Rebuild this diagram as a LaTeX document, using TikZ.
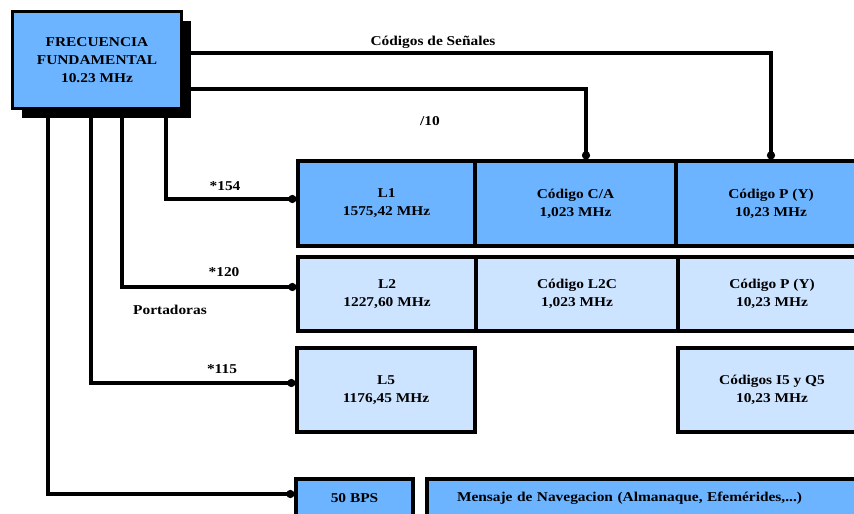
\documentclass[tikz,border=0pt]{standalone}
\usepackage{fontspec}
\setmainfont{Liberation Serif}[FakeStretch=1.14]
\usetikzlibrary{positioning,arrows.meta,calc,shadows}

\definecolor{bandblue}{RGB}{108,180,255}
\definecolor{paleblue}{RGB}{204,228,255}

\begin{document}
\begin{tikzpicture}[
    x=1pt, y=-1pt,
    font=\bfseries\fontsize{13.5}{18}\selectfont,
    link/.style={-{Circle[length=8pt]}, line width=3.3pt, draw=black},
    cell/.style={
        draw=black,
        line width=3.3pt,
        align=center,
        inner sep=0pt
    },
    darkcell/.style={cell, fill=bandblue},
    lightcell/.style={cell, fill=paleblue},
    tag/.style={inner sep=1pt}
]
\useasboundingbox (0,0) rectangle (854,514);

% oscilador
\node[darkcell, minimum width=169pt, minimum height=97pt,
      drop shadow={fill=black, opacity=1, shadow xshift=9pt, shadow yshift=-9pt}]
      (freq) at (97,60) {FRECUENCIA\\FUNDAMENTAL\\10.23 MHz};

% fila L1
\node[darkcell, minimum width=177pt, minimum height=85pt] (l1) at (386.5,203.5) {L1\\1575,42 MHz};
\node[darkcell, minimum width=201pt, minimum height=85pt] (ca) at (575.5,203.5) {Código C/A\\1,023 MHz};
\node[darkcell, minimum width=190pt, minimum height=85pt] (py1) at (771,203.5) {Código P (Y)\\10,23 MHz};

% fila L2
\node[lightcell, minimum width=178pt, minimum height=74pt] (l2) at (387,294) {L2\\1227,60 MHz};
\node[lightcell, minimum width=202pt, minimum height=74pt] (l2c) at (577,294) {Código L2C\\1,023 MHz};
\node[lightcell, minimum width=188pt, minimum height=74pt] (py2) at (772,294) {Código P (Y)\\10,23 MHz};

% fila L5
\node[lightcell, minimum width=178pt, minimum height=84pt] (l5) at (386,390) {L5\\1176,45 MHz};
\node[lightcell, minimum width=188pt, minimum height=84pt] (iq) at (772,390) {Códigos I5 y Q5\\10,23 MHz};

% mensaje
\node[darkcell, minimum width=117pt, minimum height=38pt] (bps) at (354.5,498) {50 BPS};
\node[darkcell, minimum height=38pt, text width=379pt, inner xsep=30pt, align=left]
      (nav) at (646.5,498) {Mensaje de Navegacion (Almanaque, Efemérides,...)};

% codigos
\draw[link] ([yshift=7pt]freq.east) -| (py1.north);
\draw[link] ([yshift=-29pt]freq.east) -| ([xshift=10.5pt]ca.north);

% portadoras
\draw[link] ([xshift=69pt]freq.south) |- ([yshift=4.5pt]l1.west);
\draw[link] ([xshift=25pt]freq.south) |- ([yshift=7pt]l2.west);
\draw[link] ([xshift=-6pt]freq.south) |- ([yshift=7pt]l5.west);
\draw[link] ([xshift=-49pt]freq.south) |- ([yshift=4pt]bps.west);

\node[tag] (senales) at (433,42) {Códigos de Señales};
\node[tag] (div10) at (430,121) {/10};
\node[tag] (m154) at (225,186) {*154};
\node[tag] (m120) at (224,272) {*120};
\node[tag] (portadoras) at (170,310) {Portadoras};
\node[tag] (m115) at (222,369) {*115};
\end{tikzpicture}
\end{document}
